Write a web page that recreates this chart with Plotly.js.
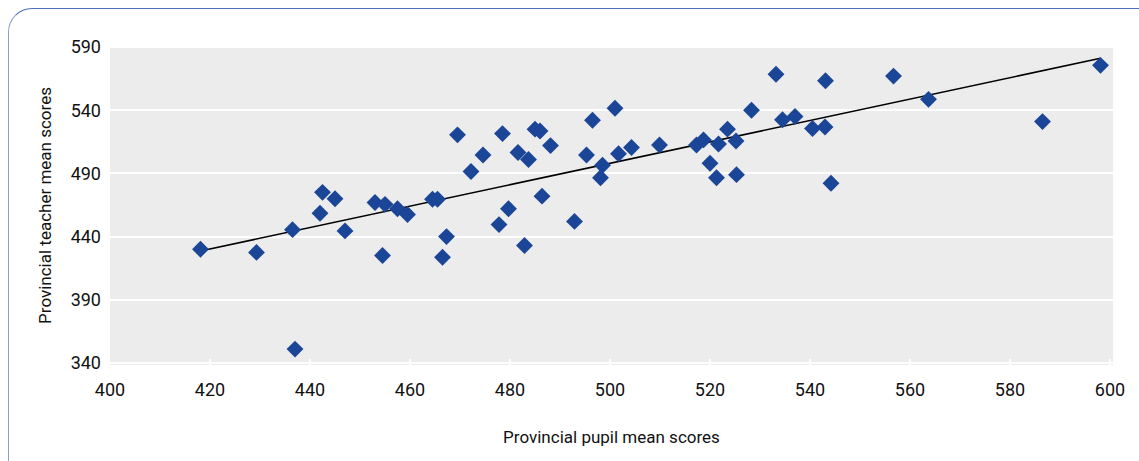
<!DOCTYPE html>
<html>
<head>
<meta charset="utf-8">
<script src="https://cdn.plot.ly/plotly-3.0.1.min.js"></script>
<style>
  html, body { margin: 0; padding: 0; background: #ffffff; }
  #wrap { position: relative; width: 1139px; height: 461px; overflow: hidden; }
  #frame { position: absolute; left: 8px; top: 8px; width: 1160px; height: 480px;
           border-top: 1.5px solid #4f6fb6; border-left: 1.5px solid #8aa0cf;
           border-top-left-radius: 24px; box-sizing: border-box; }
  #chart { position: absolute; left: 0; top: 0; width: 1139px; height: 461px; }
</style>
</head>
<body>
<div id="wrap">
  <div id="frame"></div>
  <div id="chart"></div>
</div>
<script>
// Provincial pupil mean scores (x) and provincial teacher mean scores (y)
const pupilScores = [
  418.1, 429.3, 436.5, 437.0, 442.0, 442.5, 445.0, 447.0, 453.0, 455.0,
  454.5, 457.5, 459.5, 464.5, 465.5, 467.3, 466.5, 472.2, 469.5, 474.6,
  478.5, 479.7, 477.8, 482.9, 481.6, 483.7, 485.0, 486.0, 488.1, 486.4,
  492.9, 495.3, 496.5, 501.0, 498.5, 498.1, 501.7, 504.3, 509.9, 517.3,
  518.7, 521.7, 523.5, 525.2, 520.0, 521.3, 525.3, 528.3, 533.2, 534.5,
  537.0, 540.5, 543.0, 543.1, 544.2, 556.7, 563.7, 586.5, 598.1
];
const teacherScores = [
  430.0, 427.5, 445.5, 351.0, 458.5, 475.0, 470.0, 444.5, 467.0, 465.5,
  425.0, 462.0, 457.5, 469.5, 469.5, 440.0, 423.6, 491.5, 520.5, 504.5,
  521.5, 462.0, 449.5, 433.0, 506.5, 501.0, 525.0, 523.5, 512.0, 472.0,
  452.0, 504.5, 532.0, 541.5, 496.5, 486.5, 505.5, 510.5, 512.5, 512.5,
  516.5, 513.3, 525.0, 515.6, 498.0, 486.6, 489.0, 540.0, 568.5, 532.5,
  535.0, 525.5, 526.7, 563.3, 482.2, 567.0, 548.6, 531.0, 575.5
];
const xTicks = [400, 420, 440, 460, 480, 500, 520, 540, 560, 580, 600];
const yTicks = [340, 390, 440, 490, 540, 590];

// least-squares trend line over the data
const n = pupilScores.length;
const mx = pupilScores.reduce((a, b) => a + b, 0) / n;
const my = teacherScores.reduce((a, b) => a + b, 0) / n;
let sxy = 0, sxx = 0;
for (let i = 0; i < n; i++) {
  sxy += (pupilScores[i] - mx) * (teacherScores[i] - my);
  sxx += (pupilScores[i] - mx) * (pupilScores[i] - mx);
}
const slope = sxy / sxx;
const intercept = my - slope * mx;
const xMin = Math.min(...pupilScores), xMax = Math.max(...pupilScores);
const trendX = [xMin, xMax];
const trendY = trendX.map(v => intercept + slope * v);

const font = "Roboto, 'Liberation Sans Narrow', sans-serif";
const txt = '#111111';

const traces = [
  {
    x: trendX, y: trendY, type: 'scatter', mode: 'lines',
    line: { color: '#000000', width: 1.6 }, hoverinfo: 'skip', showlegend: false
  },
  {
    x: pupilScores, y: teacherScores, type: 'scatter', mode: 'markers',
    marker: { symbol: 'diamond', size: 13, color: '#1b4596', line: { width: 0 } },
    showlegend: false
  }
];

const layout = {
  width: 1139, height: 461,
  margin: { l: 110, r: 26, t: 46, b: 96 },
  paper_bgcolor: 'rgba(0,0,0,0)',
  plot_bgcolor: '#ececec',
  font: { family: font, size: 18, color: txt },
  xaxis: {
    range: [400, 600.6], tickvals: xTicks, ticktext: xTicks.map(String),
    showgrid: false, zeroline: false, showline: false,
    ticks: 'inside', ticklen: 6, tickwidth: 2, tickcolor: '#ffffff',
    ticklabelstandoff: 12,
    tickfont: { family: font, size: 18, color: txt },
    title: { text: 'Provincial pupil mean scores', font: { family: font, size: 17, color: txt }, standoff: 32 },
    automargin: false
  },
  yaxis: {
    range: [338.4, 590.8], tickvals: yTicks, ticktext: yTicks.map(String),
    showgrid: true, gridcolor: '#ffffff', gridwidth: 2,
    zeroline: false, showline: false, ticks: '',
    ticklabelstandoff: 8,
    tickfont: { family: font, size: 18, color: txt },
    title: { text: 'Provincial teacher mean scores', font: { family: font, size: 17, color: txt }, standoff: 14 },
    automargin: false
  }
};

Plotly.newPlot('chart', traces, layout, { displayModeBar: false, staticPlot: true });
</script>
</body>
</html>
